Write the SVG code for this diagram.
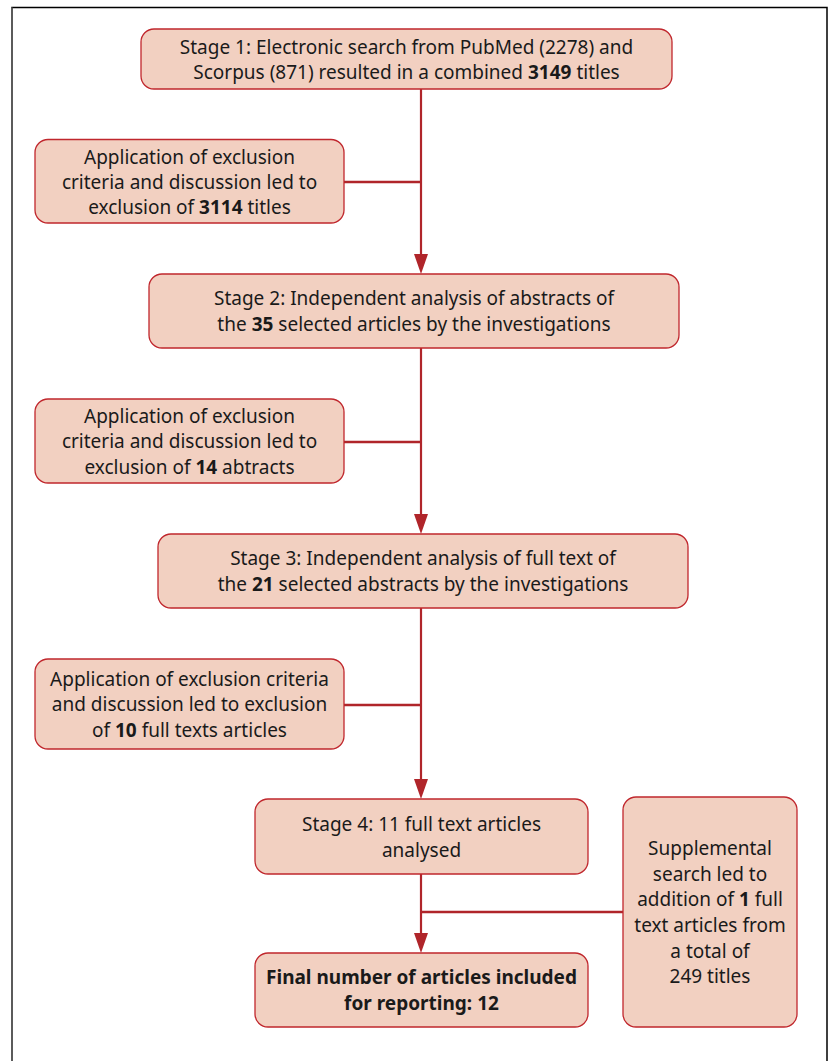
<svg xmlns="http://www.w3.org/2000/svg" width="832" height="1061" viewBox="0 0 832 1061">
<style>
.box{fill:#f2d0c1;stroke:#c0272d;stroke-width:1.3}
.t{font-family:"Noto Sans","DejaVu Sans",sans-serif;font-size:19px;fill:#1a1a1a;text-anchor:middle}
.b{font-weight:bold}
.c{stroke:#b0252a;stroke-width:2.2;fill:none}
.h{stroke:#b0252a;stroke-width:2.6;fill:none}
.ah{fill:#b0252a}
</style>
<rect width="832" height="1061" fill="#fff"/>
<path d="M12,1061 V7.5 H827 V1061" fill="none" stroke="#000" stroke-width="1.5"/>
<path d="M12,1061 V7.5" fill="none" stroke="#666" stroke-width="1.5"/>
<g id="connectors">
<line class="c" x1="421" y1="89" x2="421" y2="254"/>
<path class="ah" d="M414,254 L428,254 L421,274 Z"/>
<line class="c" x1="421" y1="348" x2="421" y2="514"/>
<path class="ah" d="M414,514 L428,514 L421,534 Z"/>
<line class="c" x1="421" y1="608" x2="421" y2="779"/>
<path class="ah" d="M414,779 L428,779 L421,799 Z"/>
<line class="c" x1="421" y1="874" x2="421" y2="933"/>
<path class="ah" d="M414,933 L428,933 L421,953 Z"/>
<line class="h" x1="344" y1="182" x2="421" y2="182"/>
<line class="h" x1="344" y1="442" x2="421" y2="442"/>
<line class="h" x1="344" y1="705" x2="421" y2="705"/>
<line class="h" x1="421" y1="912" x2="623" y2="912"/>
</g>
<g id="stage1">
<rect class="box" x="141" y="29" width="531" height="60" rx="13"/>
<text class="t" x="406.5" y="54">Stage 1: Electronic search from PubMed (2278) and</text>
<text class="t" x="406.5" y="79">Scorpus (871) resulted in a combined <tspan class="b">3149</tspan> titles</text>
</g>
<g id="excl1">
<rect class="box" x="35" y="139.5" width="309" height="83.5" rx="13"/>
<text class="t" x="189.5" y="164">Application of exclusion</text>
<text class="t" x="189.5" y="189">criteria and discussion led to</text>
<text class="t" x="189.5" y="214">exclusion of <tspan class="b">3114</tspan> titles</text>
</g>
<g id="stage2">
<rect class="box" x="149" y="274" width="530" height="74" rx="13"/>
<text class="t" x="414" y="305">Stage 2: Independent analysis of abstracts of</text>
<text class="t" x="414" y="331">the <tspan class="b">35</tspan> selected articles by the investigations</text>
</g>
<g id="excl2">
<rect class="box" x="35" y="399" width="309" height="84" rx="13"/>
<text class="t" x="189.5" y="423">Application of exclusion</text>
<text class="t" x="189.5" y="448">criteria and discussion led to</text>
<text class="t" x="189.5" y="474">exclusion of <tspan class="b">14</tspan> abtracts</text>
</g>
<g id="stage3">
<rect class="box" x="158" y="534" width="530" height="74" rx="13"/>
<text class="t" x="423" y="565">Stage 3: Independent analysis of full text of</text>
<text class="t" x="423" y="591">the <tspan class="b">21</tspan> selected abstracts by the investigations</text>
</g>
<g id="excl3">
<rect class="box" x="35" y="659" width="309" height="90" rx="13"/>
<text class="t" x="189.5" y="686">Application of exclusion criteria</text>
<text class="t" x="189.5" y="711">and discussion led to exclusion</text>
<text class="t" x="189.5" y="737">of <tspan class="b">10</tspan> full texts articles</text>
</g>
<g id="stage4">
<rect class="box" x="255" y="799" width="333" height="75" rx="13"/>
<text class="t" x="421.5" y="831">Stage 4: 11 full text articles</text>
<text class="t" x="421.5" y="857">analysed</text>
</g>
<g id="supplemental">
<rect class="box" x="623" y="797" width="174" height="230" rx="13"/>
<text class="t" x="710" y="855">Supplemental</text>
<text class="t" x="710" y="881">search led to</text>
<text class="t" x="710" y="906">addition of <tspan class="b">1</tspan> full</text>
<text class="t" x="710" y="932">text articles from</text>
<text class="t" x="710" y="958">a total of</text>
<text class="t" x="710" y="983">249 titles</text>
</g>
<g id="final">
<rect class="box" x="255" y="953" width="333" height="74" rx="13"/>
<text class="t b" x="421.5" y="984">Final number of articles included</text>
<text class="t b" x="421.5" y="1010">for reporting: 12</text>
</g>
</svg>
